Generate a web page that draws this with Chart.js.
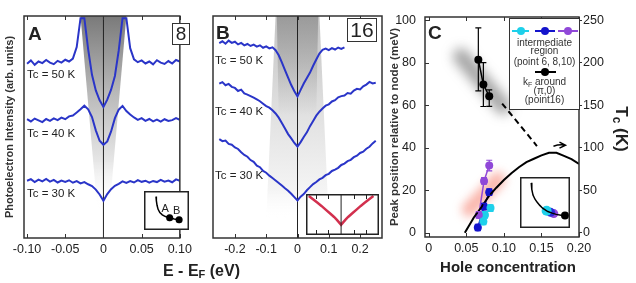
<!DOCTYPE html>
<html>
<head>
<meta charset="utf-8">
<script src="https://cdn.jsdelivr.net/npm/chart.js@4.4.1/dist/chart.umd.min.js"></script>
<style>
  body { margin:0; background:#fff; width:636px; height:283px; overflow:hidden; position:relative;
         font-family: Arial, "Liberation Sans", sans-serif; color:#222; }
  canvas { position:absolute; }
  .t { position:absolute; white-space:nowrap; line-height:1; }
  .lbl { font-size:11.5px; }
  .big { font-weight:bold; font-size:19px; }
  .num { position:absolute; border:1.5px solid #333; box-sizing:border-box; background:#fff;
         display:flex; align-items:center; justify-content:center; }
  #legend { position:absolute; left:509px; top:18px; width:71px; height:92px; border:1.5px solid #333;
            box-sizing:border-box; background:#fff; font-size:10px; color:#333; }
  #legend .row { position:absolute; left:0; width:100%; text-align:center; line-height:10px; white-space:nowrap; }
  #legend .seg { position:absolute; height:1.5px; }
  #legend .dot { position:absolute; width:8px; height:8px; border-radius:50%; }
</style>
</head>
<body>
<canvas id="chartA" width="196" height="283" style="left:0;top:0"></canvas>
<canvas id="chartB" width="190" height="283" style="left:196px;top:0"></canvas>
<canvas id="chartC" width="256" height="283" style="left:380px;top:0"></canvas>
<canvas id="insetA" width="45" height="39" style="left:144px;top:191px"></canvas>
<canvas id="insetB" width="73" height="41" style="left:306px;top:194px"></canvas>
<canvas id="insetC" width="50" height="51" style="left:520px;top:177px"></canvas>

<div class="t big" style="left:28px;top:23.5px">A</div>
<div class="t big" style="left:216px;top:22.5px">B</div>
<div class="t big" style="left:428px;top:22.5px">C</div>
<div class="num" style="left:172px;top:23px;width:18px;height:22px;font-size:19px">8</div>
<div class="num" style="left:347px;top:18px;width:30px;height:24px;font-size:21px">16</div>

<div class="t lbl" style="left:27px;top:69.4px">Tc = 50 K</div>
<div class="t lbl" style="left:27px;top:128.4px">Tc = 40 K</div>
<div class="t lbl" style="left:27px;top:188.4px">Tc = 30 K</div>
<div class="t lbl" style="left:215px;top:55.4px">Tc = 50 K</div>
<div class="t lbl" style="left:215px;top:106px">Tc = 40 K</div>
<div class="t lbl" style="left:215px;top:170.4px">Tc = 30 K</div>

<div class="t" style="left:161.5px;top:202.5px;font-size:11px">A</div>
<div class="t" style="left:173px;top:204.5px;font-size:11px">B</div>

<div class="t" style="left:163px;top:263px;font-size:16px;font-weight:bold">E - E<span style="font-size:11px;vertical-align:-2px">F</span> (eV)</div>
<div class="t" style="left:508px;top:258.5px;font-size:15px;font-weight:bold;transform:translateX(-50%)">Hole concentration</div>
<div class="t" style="left:620px;top:129px;font-size:17px;font-weight:bold;transform:translate(-50%,-50%) rotate(90deg)">T<span style="font-size:12px;vertical-align:-3px">c</span> (K)</div>

<div id="legend">
  <div class="seg" style="left:2px;top:11px;width:17px;background:#1ed0ea"></div>
  <div class="dot" style="left:7px;top:8px;background:#1ed0ea"></div>
  <div class="seg" style="left:25px;top:11px;width:20px;background:#1414cc"></div>
  <div class="dot" style="left:31px;top:8px;background:#1414cc"></div>
  <div class="seg" style="left:48px;top:11px;width:20px;background:#9048d8"></div>
  <div class="dot" style="left:54px;top:8px;background:#9048d8"></div>
  <div class="row" style="top:18.5px">intermediate</div>
  <div class="row" style="top:27px">region</div>
  <div class="row" style="top:38px">(point 6, 8,10)</div>
  <div class="seg" style="left:25px;top:52px;width:21px;background:#000"></div>
  <div class="dot" style="left:31px;top:49px;background:#000"></div>
  <div class="row" style="top:58px">k<span style="font-size:7px;vertical-align:-2px">F</span> around</div>
  <div class="row" style="top:66.5px">(π,0)</div>
  <div class="row" style="top:76px">(point16)</div>
</div>

<script>
// ---------- panel A : point 8 spectra
const energyA = [-0.1,-0.095,-0.09,-0.085,-0.08,-0.075,-0.07,-0.065,-0.06,-0.055,-0.05,-0.045,-0.04,-0.035,-0.03,-0.025,-0.02,-0.015,-0.01,-0.005,
  0,0.005,0.01,0.015,0.02,0.025,0.03,0.035,0.04,0.045,0.05,0.055,0.06,0.065,0.07,0.075,0.08,0.085,0.09,0.095,0.1];
const edcA50 = [78.5,80,78,79.5,78.8,80.2,79,78.3,79.8,79,80.3,79.5,80.8,86,99,99,85,73.5,66.5,62,
  59,62.3,66.8,73,84.5,99,99,85.5,80.5,79.2,80,78.6,79.5,78.2,80.1,79,78.4,79.7,78.6,80.2,79.5];
const edcA40 = [53.5,52.5,53.8,53,52.2,53.6,52.8,53.9,53.1,54.2,53.5,54.8,55.2,56.5,58,59.6,58,54.5,48.5,43.8,
  42,43.5,48,54,57.8,59.5,57.2,55.6,54.3,53.2,54,52.8,53.6,52.5,53.3,52.4,53.5,52.7,53.1,54,53.2];
const edcA30 = [25.8,26.5,25.2,26.3,25.5,26.6,25.4,26.2,25,25.9,25.3,26,24.9,25.6,24.6,25.2,24.2,23.4,21.8,19.6,
  16.8,19.8,22,23.5,24.4,25.5,24.8,25.6,25,26.1,25.3,25.8,24.9,25.7,25.2,26.2,25.4,25.9,25.1,26.4,25.8];
const ticksA = [-0.1, -0.05, 0, 0.05, 0.1];
const tickLabelsA = ['-0.10', '-0.05', '0', '0.05', '0.10'];

// ---------- panel B : point 16 spectra
const energyB = [-0.25,-0.24,-0.23,-0.22,-0.21,-0.2,-0.19,-0.18,-0.17,-0.16,-0.15,-0.14,-0.13,-0.12,-0.11,-0.1,-0.09,-0.08,-0.07,-0.06,
  -0.05,-0.04,-0.03,-0.02,-0.01,0,0.01,0.02,0.03,0.04,0.05,0.06,0.07,0.08,0.09,0.1,0.11,0.12,0.13,0.14,
  0.15,0.16,0.17,0.18,0.19,0.2,0.21,0.22,0.23,0.24,0.25];
const edcB50 = [87.8,88.6,87.5,88.9,87.9,88.4,87.2,87.9,86.8,87.4,86.5,87.1,86.2,86.8,85.7,86.3,85.4,85.9,84.6,82.3,
  79.1,75.6,72.2,68.9,66.1,63.8,66.7,69.6,72.1,74.5,77.6,80.4,83.1,84.8,85.3,84.6,85.5,84.9,85.8,85.2,85.9];
const edcB40 = [69.5,70.2,68.8,69.4,68.1,67.6,66.2,66.8,65.1,64.6,63.9,63.2,62.4,61.6,60.5,59.4,58.7,57.5,56.1,54.2,
  51.8,49.3,46.8,44.9,42.8,41.2,43.2,45.5,47.6,50.4,52.7,55.1,56.9,58.3,59.6,60.2,61.5,62.1,63.4,63.9,
  64.2,65.3,65,66.4,67.2,66.9,68.3,69.1,70.3,69.6,69.9];
const edcB30 = [44.5,43.6,43.9,42.4,42,40.8,40.1,38.6,37.4,36.6,35.1,34.3,32.6,31.9,30.2,29.4,28.1,27,25.9,24.8,
  23.6,22.4,21.3,19.9,18.4,16.9,18.6,19.8,21.5,22.9,24.3,25.2,26.4,27.1,28.3,28.9,30.2,30.8,31.6,32.9,
  33.5,34.6,35.2,36.4,37.1,38.3,38.9,40.2,41.1,42.6,43.8];
const ticksB = [-0.2, -0.1, 0, 0.1, 0.2];
const tickLabelsB = ['-0.2', '-0.1', '0', '0.1', '0.2'];

// ---------- panel C
const kfX = [0.066, 0.0727, 0.0805];
const kfPeak = [81.4, 69.7, 64.2];
const kfLo = [66.7, 59.4, 59.5];
const kfHi = [96.4, 80, 67.2];
const p6X = [0.0727, 0.0748, 0.0822];
const p6Peak = [5.3, 8.4, 11.6];
const p8X = [0.0653, 0.0736, 0.0805];
const p8Peak = [2.5, 12.3, 19.1];
const p10X = [0.0666, 0.0736, 0.0805];
const p10Peak = [8.4, 24.4, 31.6];
const p6Err = [1.5, 1.5, 1.5];
const p8Err = [1.5, 1.5, 1.5];
const p10Err = [1.5, 1.5, 2.5];
const trendX = [0.0977, 0.144];
const trendPeak = [60.8, 40.8];
const domeX = [0.048,0.06,0.07,0.08,0.09,0.1,0.11,0.12,0.13,0.14,0.15,0.16,0.17,0.18,0.19,0.2];
const domeTc = [0,18,30,43,53,62,70,77,83,87,91,94,94,90.5,86.5,81];
const ticksCx = [0, 0.05, 0.1, 0.15, 0.2];
const tickLabelsCx = ['0', '0.05', '0.10', '0.15', '0.20'];
const ticksCy = [0, 20, 40, 60, 80, 100];
const ticksCtc = [0, 50, 100, 150, 200, 250];

// ---------- insets (normalised box coords)
const fsAx = [0.2,0.21,0.23,0.26,0.31,0.38,0.47,0.59,0.72,0.86];
const fsAy = [0.98,0.84,0.68,0.54,0.43,0.35,0.29,0.25,0.21,0.18];
const dotsAx = [0.59, 0.86];
const dotsAy = [0.25, 0.18];
const fsCx = [0.156,0.17,0.2,0.25,0.3,0.37,0.44,0.57,0.68,0.78,0.9,1.0];
const fsCy = [0.98,0.82,0.68,0.58,0.51,0.43,0.36,0.28,0.24,0.21,0.19,0.18];
const insetBx = [-0.23,-0.2,-0.17,-0.14,-0.11,-0.08,-0.05,-0.03,-0.01,0,0.01,0.03,0.05,0.08,0.11,0.14,0.17,0.2,0.23];
const insetBfit = [0.95,0.87,0.79,0.71,0.62,0.53,0.44,0.37,0.29,0.25,0.29,0.37,0.44,0.53,0.62,0.71,0.79,0.87,0.95];
const insetBdata = [0.96,0.86,0.8,0.7,0.63,0.52,0.45,0.36,0.3,0.24,0.28,0.38,0.43,0.54,0.61,0.72,0.78,0.88,0.94];
const insetBticks = [-0.18, -0.09, 0.09, 0.18];

Chart.defaults.font.family = 'Arial, "Liberation Sans", sans-serif';
Chart.defaults.color = '#222';

const BLUE = '#2a35c8';
const pts = (xs, ys) => ys.map((y, i) => ({x: xs[i], y}));

// box around the plot, inward ticks
const frame = {
  id: 'frame',
  afterDatasetsDraw(chart, args, opts) {
    const {ctx, chartArea: {left, right, top, bottom}, scales} = chart;
    ctx.save();
    ctx.strokeStyle = '#333';
    ctx.lineWidth = 1;
    if (opts.xTicks) {
      scales.x.ticks.forEach(t => {
        const px = Math.round(scales.x.getPixelForValue(t.value)) + 0.5;
        ctx.beginPath();
        ctx.moveTo(px, bottom); ctx.lineTo(px, bottom - 4);
        ctx.moveTo(px, top); ctx.lineTo(px, top + 4);
        ctx.stroke();
      });
    }
    if (opts.yTicks) {
      scales.y.ticks.forEach(t => {
        const py = Math.round(scales.y.getPixelForValue(t.value)) + 0.5;
        ctx.beginPath();
        ctx.moveTo(left, py); ctx.lineTo(left + 4, py);
        ctx.stroke();
      });
    }
    ctx.lineWidth = 1.5;
    ctx.strokeRect(left, top, right - left, bottom - top);
    ctx.restore();
  }
};

// grey gap shading behind the spectra
function makeCone(shapes) {
  return {
    id: 'cone',
    beforeDatasetsDraw(chart) {
      const {ctx, scales: {x, y}} = chart;
      ctx.save();
      shapes.forEach(s => {
        const yt = y.getPixelForValue(s.top), yb = y.getPixelForValue(s.bottom);
        const g = ctx.createLinearGradient(0, yt, 0, yb);
        s.stops.forEach(st => g.addColorStop(st[0], st[1]));
        ctx.beginPath();
        ctx.moveTo(x.getPixelForValue(-s.wTop), yt);
        ctx.lineTo(x.getPixelForValue(s.wTop), yt);
        ctx.lineTo(x.getPixelForValue(s.wBot), yb);
        ctx.lineTo(x.getPixelForValue(-s.wBot), yb);
        ctx.closePath();
        ctx.fillStyle = g;
        ctx.fill();
      });
      ctx.restore();
    }
  };
}

function edc(data) {
  return {data, showLine: true, borderColor: BLUE, borderWidth: 2, pointRadius: 0, tension: 0};
}
const zeroLine = {data: [{x: 0, y: 0}, {x: 0, y: 100}], showLine: true, borderColor: '#222', borderWidth: 1, pointRadius: 0};

function xScale(min, max, ticks, labels) {
  return {
    type: 'linear', min, max,
    grid: {display: false, drawTicks: false}, border: {display: false},
    afterBuildTicks: s => { s.ticks = ticks.map(v => ({value: v})); },
    ticks: {autoSkip: false, maxRotation: 0, padding: 4, font: {size: 12.5}, callback: (v, i) => labels[i]},
    afterFit: s => { s.height = 45; }
  };
}

// ---- A
new Chart(document.getElementById('chartA'), {
  type: 'scatter',
  data: {datasets: [edc(pts(energyA, edcA50)), edc(pts(energyA, edcA40)), edc(pts(energyA, edcA30)), zeroLine]},
  options: {
    responsive: false, animation: false, devicePixelRatio: 1,
    layout: {padding: {top: 16, right: 6, left: 0, bottom: 0}},
    plugins: {legend: {display: false}, tooltip: {enabled: false}, frame: {xTicks: true}},
    scales: {
      x: xScale(-0.104, 0.1, ticksA, tickLabelsA),
      y: {
        min: 0, max: 100,
        grid: {display: false, drawTicks: false}, border: {display: false},
        ticks: {display: false},
        title: {display: true, text: 'Photoelectron Intensity (arb. units)', color: '#333',
                font: {size: 11, weight: 'bold'}, padding: {top: 3.5, bottom: 0}},
        afterFit: s => { s.width = 24; }
      }
    }
  },
  plugins: [frame, makeCone([
    {top: 100, bottom: 13, wTop: 0.03, wBot: 0.008,
     stops: [[0, '#7a7a7a'], [0.4, '#b9b9b9'], [0.75, '#e6e6e6'], [1, 'rgba(255,255,255,0)']]}
  ])]
});

// ---- B
new Chart(document.getElementById('chartB'), {
  type: 'scatter',
  data: {datasets: [edc(pts(energyB, edcB50)), edc(pts(energyB, edcB40)), edc(pts(energyB, edcB30)), zeroLine]},
  options: {
    responsive: false, animation: false, devicePixelRatio: 1,
    layout: {padding: {top: 16, right: 4, left: 0, bottom: 0}},
    plugins: {legend: {display: false}, tooltip: {enabled: false}, frame: {xTicks: true}},
    scales: {
      x: xScale(-0.27, 0.27, ticksB, tickLabelsB),
      y: {
        min: 0, max: 100,
        grid: {display: false, drawTicks: false}, border: {display: false},
        ticks: {display: false},
        afterFit: s => { s.width = 17; }
      }
    }
  },
  plugins: [frame, makeCone([
    {top: 100, bottom: 8, wTop: 0.07, wBot: 0.1,
     stops: [[0, '#c4c4c4'], [0.5, '#e2e2e2'], [0.85, '#f4f4f4'], [1, 'rgba(255,255,255,0)']]},
    {top: 100, bottom: 55, wTop: 0.066, wBot: 0.06,
     stops: [[0, 'rgba(120,120,120,0.55)'], [1, 'rgba(120,120,120,0)']]}
  ])]
});

// ---- C : blurred guides, error bars, arrow
const streaks = {
  id: 'streaks',
  beforeDatasetsDraw(chart) {
    const {ctx, scales: {x, y}} = chart;
    const band = (x1, y1, x2, y2, color, w) => {
      ctx.beginPath();
      ctx.moveTo(x.getPixelForValue(x1), y.getPixelForValue(y1));
      ctx.lineTo(x.getPixelForValue(x2), y.getPixelForValue(y2));
      ctx.strokeStyle = color; ctx.lineWidth = w; ctx.lineCap = 'round';
      ctx.stroke();
    };
    ctx.save();
    ctx.filter = 'blur(6px)';
    band(0.043, 83, 0.099, 59.5, 'rgba(90,90,90,0.55)', 16);
    ctx.filter = 'blur(5px)';
    band(0.054, 11, 0.092, 25, 'rgba(245,110,90,0.5)', 15);
    ctx.restore();
  }
};

const errorBars = {
  id: 'errorBars',
  afterDatasetsDraw(chart) {
    const {ctx, scales: {y}} = chart;
    ctx.save();
    chart.data.datasets.forEach((ds, i) => {
      if (!ds.errLo) return;
      const meta = chart.getDatasetMeta(i);
      ctx.strokeStyle = ds.borderColor;
      ctx.lineWidth = 1.2;
      meta.data.forEach((p, j) => {
        const y1 = y.getPixelForValue(ds.errLo[j]), y2 = y.getPixelForValue(ds.errHi[j]);
        ctx.beginPath();
        ctx.moveTo(p.x, y1); ctx.lineTo(p.x, y2);
        ctx.moveTo(p.x - 3, y1); ctx.lineTo(p.x + 3, y1);
        ctx.moveTo(p.x - 3, y2); ctx.lineTo(p.x + 3, y2);
        ctx.stroke();
      });
    });
    // arrow pointing to the Tc axis
    const {x, y2} = chart.scales;
    const ax1 = x.getPixelForValue(0.166), ax2 = x.getPixelForValue(0.182), ay = y2.getPixelForValue(103);
    ctx.strokeStyle = '#000'; ctx.lineWidth = 1.5;
    ctx.beginPath();
    ctx.moveTo(ax1, ay + 1); ctx.quadraticCurveTo((ax1 + ax2) / 2, ay - 1, ax2, ay);
    ctx.moveTo(ax2 - 6, ay - 3); ctx.lineTo(ax2, ay); ctx.lineTo(ax2 - 6, ay + 3);
    ctx.stroke();
    ctx.restore();
  }
};

const errs = (ys, e) => [ys.map((v, i) => v - e[i]), ys.map((v, i) => v + e[i])];
function series(xs, ys, color, err) {
  const ds = {data: pts(xs, ys), showLine: true, borderColor: color, backgroundColor: color,
              borderWidth: 1.5, pointRadius: 4, pointBorderWidth: 0};
  if (err) { ds.errLo = err[0]; ds.errHi = err[1]; }
  return ds;
}

new Chart(document.getElementById('chartC'), {
  type: 'scatter',
  data: {datasets: [
    {data: pts(domeX, domeTc), yAxisID: 'y2', showLine: true, borderColor: '#000', borderWidth: 2, pointRadius: 0},
    {data: pts(trendX, trendPeak), showLine: true, borderColor: '#000', borderWidth: 2, borderDash: [6, 4], pointRadius: 0},
    series(p10X, p10Peak, '#9048d8', errs(p10Peak, p10Err)),
    series(p6X, p6Peak, '#1ed0ea', errs(p6Peak, p6Err)),
    series(p8X, p8Peak, '#1414cc', errs(p8Peak, p8Err)),
    series(kfX, kfPeak, '#000', [kfLo, kfHi])
  ]},
  options: {
    responsive: false, animation: false, devicePixelRatio: 1,
    layout: {padding: {top: 17, right: 0, left: 0, bottom: 0}},
    plugins: {legend: {display: false}, tooltip: {enabled: false}, frame: {xTicks: true, yTicks: true}},
    scales: {
      x: Object.assign(xScale(-0.005, 0.2, ticksCx, tickLabelsCx), {afterFit: s => { s.height = 46; }}),
      y: {
        min: -2, max: 101.5,
        grid: {display: false, drawTicks: false}, border: {display: false},
        afterBuildTicks: s => { s.ticks = ticksCy.map(v => ({value: v})); },
        ticks: {padding: 9, font: {size: 12.5}},
        title: {display: true, text: 'Peak position relative to node (meV)', color: '#333',
                font: {size: 11.5, weight: 'bold'}, padding: {top: 8, bottom: 0}},
        afterFit: s => { s.width = 45; }
      },
      y2: {
        position: 'right', min: -5, max: 253.75,
        grid: {display: true, drawOnChartArea: false, drawTicks: true, tickLength: 3, color: '#333'},
        border: {display: false},
        afterBuildTicks: s => { s.ticks = ticksCtc.map(v => ({value: v})); },
        ticks: {padding: 1, font: {size: 12.5}},
        afterFit: s => { s.width = 57; }
      }
    }
  },
  plugins: [streaks, errorBars, frame]
});

// ---- insets
const insetFrame = {
  id: 'insetFrame',
  beforeDraw(chart) {
    const {ctx, width, height} = chart;
    ctx.save(); ctx.fillStyle = '#fff'; ctx.fillRect(0, 0, width, height); ctx.restore();
  },
  afterDatasetsDraw(chart, args, opts) {
    const {ctx, width, height, scales: {x}} = chart;
    ctx.save();
    ctx.strokeStyle = '#222';
    if (opts.ticks) {
      ctx.lineWidth = 1;
      opts.ticks.forEach(v => {
        const px = Math.round(x.getPixelForValue(v)) + 0.5;
        ctx.beginPath();
        ctx.moveTo(px, 0); ctx.lineTo(px, 5);
        ctx.moveTo(px, height); ctx.lineTo(px, height - 5);
        ctx.stroke();
      });
    }
    ctx.lineWidth = 1.5;
    ctx.strokeRect(0.75, 0.75, width - 1.5, height - 1.5);
    ctx.restore();
  }
};

function insetOptions(xmin, xmax, ticks) {
  return {
    responsive: false, animation: false, devicePixelRatio: 1,
    layout: {padding: 0},
    plugins: {legend: {display: false}, tooltip: {enabled: false}, insetFrame: {ticks}},
    scales: {x: {type: 'linear', display: false, min: xmin, max: xmax}, y: {display: false, min: 0, max: 1}}
  };
}

new Chart(document.getElementById('insetA'), {
  type: 'scatter',
  data: {datasets: [
    {data: pts(fsAx, fsAy), showLine: true, borderColor: '#000', borderWidth: 1.5, pointRadius: 0},
    {data: pts(dotsAx, dotsAy), showLine: false, backgroundColor: '#000', pointRadius: 3.5, clip: false}
  ]},
  options: insetOptions(0, 1, null),
  plugins: [insetFrame]
});

new Chart(document.getElementById('insetB'), {
  type: 'scatter',
  data: {datasets: [
    {data: [{x: 0, y: 0}, {x: 0, y: 1}], showLine: true, borderColor: '#222', borderWidth: 1, pointRadius: 0},
    {data: pts(insetBx, insetBfit), showLine: true, borderColor: '#d2304e', borderWidth: 2.5, pointRadius: 0},
    {data: pts(insetBx, insetBdata), showLine: true, borderColor: 'rgba(70,60,190,0.55)', borderWidth: 1, pointRadius: 0}
  ]},
  options: insetOptions(-0.25, 0.27, insetBticks),
  plugins: [insetFrame]
});

new Chart(document.getElementById('insetC'), {
  type: 'scatter',
  data: {datasets: [
    {data: pts(fsCx, fsCy), showLine: true, borderColor: '#000', borderWidth: 1.5, pointRadius: 0},
    {data: [{x: 0.54, y: 0.3}], backgroundColor: '#1ed0ea', pointRadius: 5, pointBorderWidth: 0},
    {data: [{x: 0.64, y: 0.26}], backgroundColor: '#2a2ad8', pointRadius: 4.5, pointBorderWidth: 0},
    {data: [{x: 0.72, y: 0.23}], backgroundColor: '#9048d8', pointRadius: 4.5, pointBorderWidth: 0},
    {data: [{x: 1.0, y: 0.18}], backgroundColor: '#000', pointRadius: 4, pointBorderWidth: 0, clip: false}
  ]},
  options: insetOptions(0, 1, null),
  plugins: [insetFrame]
});
</script>
</body>
</html>
